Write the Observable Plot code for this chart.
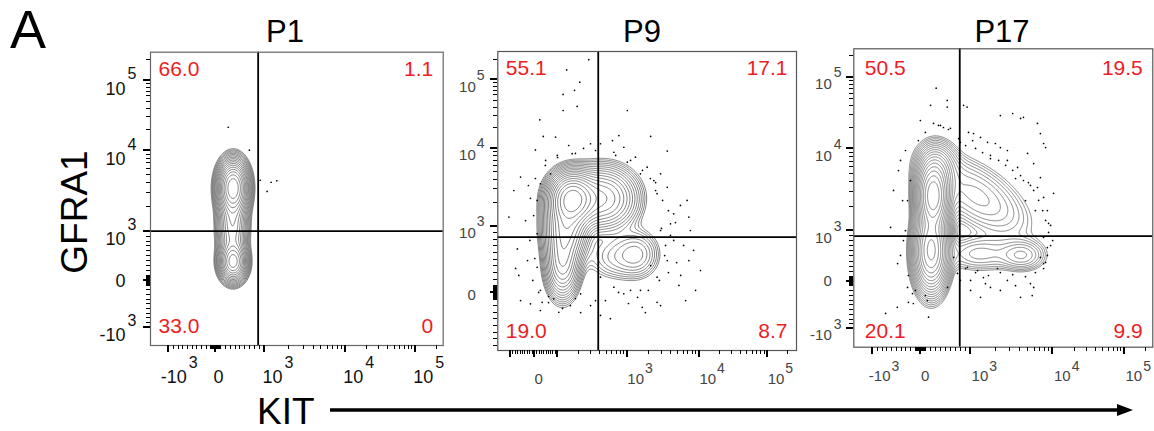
<!DOCTYPE html>
<html><head><meta charset="utf-8">
<script src="https://cdn.jsdelivr.net/npm/d3@7"></script>
<script src="https://cdn.jsdelivr.net/npm/@observablehq/plot@0.6"></script>
<style>
body{margin:0;background:#fff;}
#fig{position:relative;width:1154px;height:431px;overflow:hidden;background:#fff;font-family:"Liberation Sans",Arial,Helvetica,sans-serif;}
</style></head><body><div id="fig"></div>
<script>
// ---------------- data ----------------
const panelTitles = ["P1", "P9", "P17"];
// quadrant percentages: [upper-left, upper-right, lower-left, lower-right]
const p1Quadrants = ["66.0", "1.1", "33.0", "0"];
const p9Quadrants = ["55.1", "17.1", "19.0", "8.7"];
const p17Quadrants = ["50.5", "19.5", "20.1", "9.9"];
// quadrant gates [KIT, GFRA1] in fluorescence units
const p1Gate = [870, 1000];
const p9Gate = [385, 833];
const p17Gate = [790, 895];
// biexponential axis definition: fluorescence value -> display channel (0..1024)
const stdAxisValues = [-1000, 0, 1000, 1e4, 1e5];
const stdAxisChannels = [64, 227, 399, 681, 926];
const p9KitValues = [-100, 0, 100, 1000, 1e4, 1e5];
const p9KitChannels = [43, 126, 205, 443, 690, 924];
const p9GfraValues = [-1000, 0, 1000, 1e4, 1e5];
const p9GfraChannels = [-28, 199, 426, 693, 927];
// tick labels
const stdTickLabels = [{v: -1000, base: "-10", exp: "3"}, {v: 0, base: "0", exp: ""}, {v: 1000, base: "10", exp: "3"}, {v: 1e4, base: "10", exp: "4"}, {v: 1e5, base: "10", exp: "5"}];
const p9TickLabels = [{v: 0, base: "0", exp: ""}, {v: 1000, base: "10", exp: "3"}, {v: 1e4, base: "10", exp: "4"}, {v: 1e5, base: "10", exp: "5"}];
const stdMajorTicks = [-1000, 0, 1000, 1e4, 1e5];
const p9KitMajorTicks = [-100, 0, 100, 1000, 1e4, 1e5];
const p9GfraMajorTicks = [0, 1000, 1e4, 1e5];
// cell populations (display channels): centre, spread, correlation, relative density
const p1Populations = [
  {x: 289, y: 552, sx: 26, sy: 46, r: 0, a: 1},
  {x: 289, y: 291, sx: 24, sy: 34, r: 0, a: 0.55},
  {x: 287, y: 420, sx: 26, sy: 70, r: 0, a: 0.3}
];
const p9Populations = [
  {x: 255, y: 520, sx: 40, sy: 45, r: 0, a: 1},
  {x: 360, y: 520, sx: 60, sy: 55, r: 0, a: 0.35},
  {x: 478, y: 330, sx: 42, sy: 45, r: 0, a: 0.08},
  {x: 222, y: 300, sx: 30, sy: 62, r: 0, a: 0.32},
  {x: 235, y: 420, sx: 38, sy: 60, r: 0, a: 0.45},
  {x: 400, y: 320, sx: 55, sy: 45, r: 0, a: 0.05}
];
const p17Populations = [
  {x: 272, y: 520, sx: 28, sy: 60, r: 0, a: 1},
  {x: 265, y: 330, sx: 30, sy: 70, r: 0, a: 0.7},
  {x: 577, y: 315, sx: 45, sy: 30, r: 0, a: 0.07},
  {x: 420, y: 520, sx: 100, sy: 80, r: -0.6, a: 0.08},
  {x: 285, y: 620, sx: 36, sy: 45, r: 0, a: 0.12},
  {x: 430, y: 320, sx: 70, sy: 35, r: 0, a: 0.05}
];
// outlier events (display channels)
const p1Outliers = [[272,762],[346,682],[384,577],[422,570],[442,575],[408,538]];
const p9Outliers = [[312,996],[236,961],[281,919],[263,891],[224,877],[272,836],[224,822],[444,822],[144,790],[198,731],[156,733],[243,702],[318,708],[415,736],[524,733],[432,696],[581,683],[129,687],[78,594],[55,548],[38,457],[67,348],[72,257],[112,160],[152,165],[209,131],[386,109],[495,148],[546,165],[621,223],[655,308],[649,514],[655,457],[603,468],[581,559],[558,605],[512,628],[472,662],[398,679],[352,708],[255,674],[204,668],[181,605],[146,571],[135,514],[135,400],[135,285],[146,206],[192,177],[284,194],[352,251],[398,217],[432,194],[489,206],[546,251],[581,308],[603,377],[592,434],[546,537],[535,582],[489,605],[444,645],[558,411],[575,360],[524,291],[455,206],[335,171],[249,154],[174,185],[102,308],[95,445],[105,565],[164,651],[294,692],[393,719],[541,575],[626,497],[671,343],
  [541,548],[565,514],[585,479],[609,438],[561,418],[592,394],[637,360],[572,325],[613,301],[585,267],[554,240],[627,257],[516,206],[479,182],[448,161],[414,199],[369,171],[318,154],[266,178],[222,144],[174,164],[140,199],[120,240],[127,315],[110,377],[123,462],[112,521],[129,589],[163,634],[205,661],[266,675],[335,685],[404,668],[455,651],[496,617],[523,589],[660,411],[695,274],[678,206],[644,171],[558,154],[506,130],[352,120],[284,130],[78,171],[61,281],[146,137]];
const p17Outliers = [[263,830],[320,824],[273,768],[290,761],[307,754],[324,747],[228,778],[376,830],[393,737],[410,733],[434,720],[458,703],[485,699],[502,685],[526,675],[544,802],[571,785],[629,768],[650,699],[595,665],[616,630],[639,582],[629,548],[650,514],[663,469],[684,528],[667,425],[650,377],[663,342],[639,308],[581,572],[561,617],[526,641],[160,641],[136,538],[126,411],[184,503],[194,572],[170,366],[150,287],[184,205],[201,184],[204,150],[252,160],[109,116],[355,253],[389,274],[424,263],[444,239],[492,270],[526,229],[468,205],[571,171],[434,171],[400,229],[616,205],[650,287],[321,205],[342,308],[282,889],[320,847],[388,824],[581,789],[502,795],[639,733],[657,685],[149,137],[256,103],[611,177],[187,154],[554,579],[605,555],[588,503],[622,469],[674,418],[681,366],[657,291],[468,658],[417,682],[365,703],
  [359,716],[383,692],[407,709],[441,668],[468,647],[496,641],[520,624],[544,607],[571,589],[598,565],[616,538],[633,504],[647,469],[657,435],[667,394],[674,349],[663,315],[650,270],[622,256],[588,242],[544,249],[502,256],[461,246],[417,256],[383,270],[365,229],[400,195],[451,218],[502,195],[554,211],[605,218],[177,675],[153,606],[167,503],[177,400],[160,315],[187,246],[211,195],[245,177],[221,709],[245,737],[297,761],[331,751]];

// ---------------- helpers ----------------
function toChannel(v, vals, chans) {
  const n = vals.length;
  let i = 0;
  while (i < n - 2 && v > vals[i + 1]) i++;
  const a = vals[i], b = vals[i + 1];
  let t;
  if (a >= 100 && b > 0 && v > 0) t = (Math.log10(v) - Math.log10(a)) / (Math.log10(b) - Math.log10(a));
  else t = (v - a) / (b - a);
  return chans[i] + t * (chans[i + 1] - chans[i]);
}
function mixture(pops) {
  return (x, y) => {
    let s = 0;
    for (const p of pops) {
      const dx = (x - p.x) / p.sx, dy = (y - p.y) / p.sy, r = p.r || 0;
      s += p.a * Math.exp(-0.5 * (dx * dx - 2 * r * dx * dy + dy * dy) / (1 - r * r));
    }
    return s;
  };
}
function minorTicks(lin, decades) {
  const out = [];
  for (const s of lin) for (let k = 1; k <= 9; k++) { out.push(k * s, -k * s); }
  for (const d of decades) for (let k = 2; k <= 9; k++) out.push(k * d);
  out.push(2e5);
  return out.sort((a, b) => a - b);
}

const FONT = '"Liberation Sans",Arial,Helvetica,sans-serif';
const RED = "#ee1d23";
const fig = document.getElementById("fig");
const NS = "http://www.w3.org/2000/svg";

function makePanel(c) {
  const tx = v => toChannel(v, c.kitValues, c.kitChannels);
  const ty = v => toChannel(v, c.gfraValues, c.gfraChannels);
  const f = mixture(c.pops);
  let peak = 0;
  for (let x = 0; x <= 1024; x += 3) for (let y = 0; y <= 1024; y += 3) peak = Math.max(peak, f(x, y));
  const thresholds = d3.range(18, 0, -1).map(k => peak * Math.pow(10, -0.105 * k));
  const inX = ch => ch >= 0 && ch <= 1024;
  const L = c.lab;
  const nz = c.kitLabels.filter(d => d.exp), z = c.kitLabels.filter(d => !d.exp);
  const nzy = c.gfraLabels.filter(d => d.exp), zy = c.gfraLabels.filter(d => !d.exp);
  const q = c.qOff;
  const svg = Plot.plot({
    width: c.width, height: c.height,
    marginLeft: c.ml, marginRight: c.mr, marginTop: c.mt, marginBottom: c.mb,
    x: {domain: [0, 1024], axis: null}, y: {domain: [0, 1024], axis: null},
    style: {background: "transparent", fontFamily: FONT, overflow: "visible"},
    marks: [
      Plot.contour({x1: 0, y1: 0, x2: 1024, y2: 1024, value: f, thresholds, pixelSize: 1, fill: "none", stroke: "#666", strokeWidth: 0.8}),
      Plot.dot(c.dots, {x: d => d[0], y: d => d[1], r: 0.85, fill: "#000", stroke: null}),
      Plot.ruleX([c.gate[0]], {x: tx, stroke: "#000", strokeWidth: 1.8}),
      Plot.ruleY([c.gate[1]], {y: ty, stroke: "#000", strokeWidth: 1.8}),
      Plot.frame({stroke: c.frameColor, strokeWidth: 1.2}),
      // x tick labels
      Plot.text(nz, {x: d => tx(d.v), text: d => d.base, frameAnchor: "bottom", textAnchor: "end", lineAnchor: "middle", dx: L.xb[0], dy: L.xb[1], fontSize: c.tf, fill: c.labColor}),
      Plot.text(nz, {x: d => tx(d.v), text: d => d.exp, frameAnchor: "bottom", textAnchor: "start", lineAnchor: "middle", dx: L.xe[0], dy: L.xe[1], fontSize: c.ef, fill: c.labColor}),
      Plot.text(z, {x: d => tx(d.v), text: d => d.base, frameAnchor: "bottom", textAnchor: "middle", lineAnchor: "middle", dx: L.xz[0], dy: L.xz[1], fontSize: c.tf, fill: c.labColor}),
      // y tick labels
      Plot.text(nzy, {y: d => ty(d.v), text: d => d.base, frameAnchor: "left", textAnchor: "end", lineAnchor: "middle", dx: L.yb[0], dy: L.yb[1], fontSize: c.tf, fill: c.labColor}),
      Plot.text(nzy, {y: d => ty(d.v), text: d => d.exp, frameAnchor: "left", textAnchor: "start", lineAnchor: "middle", dx: L.ye[0], dy: L.ye[1], fontSize: c.ef, fill: c.labColor}),
      Plot.text(zy, {y: d => ty(d.v), text: d => d.base, frameAnchor: "left", textAnchor: "end", lineAnchor: "middle", dx: L.yz[0], dy: L.yz[1], fontSize: c.tf, fill: c.labColor}),
      // quadrant percentages
      Plot.text([c.quad[0]], {text: d => d, frameAnchor: "top-left", textAnchor: "start", lineAnchor: "middle", dx: q[0], dy: q[1], fill: RED, fontSize: 21}),
      Plot.text([c.quad[1]], {text: d => d, frameAnchor: "top-right", textAnchor: "end", lineAnchor: "middle", dx: q[2], dy: q[1], fill: RED, fontSize: 21}),
      Plot.text([c.quad[2]], {text: d => d, frameAnchor: "bottom-left", textAnchor: "start", lineAnchor: "middle", dx: q[0], dy: q[3], fill: RED, fontSize: 21}),
      Plot.text([c.quad[3]], {text: d => d, frameAnchor: "bottom-right", textAnchor: "end", lineAnchor: "middle", dx: q[2], dy: q[3], fill: RED, fontSize: 21})
    ]
  });
  // outward axis ticks, positioned through the plot's own x / y scales (crisp, solid black)
  const X = svg.scale("x"), Y = svg.scale("y");
  const g = document.createElementNS(NS, "g");
  g.setAttribute("shape-rendering", "crispEdges");
  g.setAttribute("stroke", "#000");
  const bottom = Math.round(Y.apply(0)), left = Math.round(X.apply(0));
  const addLine = (x1, y1, x2, y2, w) => {
    const l = document.createElementNS(NS, "line");
    l.setAttribute("x1", x1); l.setAttribute("y1", y1); l.setAttribute("x2", x2); l.setAttribute("y2", y2);
    l.setAttribute("stroke-width", w);
    g.appendChild(l);
  };
  c.kitMajor.map(tx).filter(inX).forEach(ch => { const p = Math.round(X.apply(ch)); addLine(p, bottom, p, bottom + 7, 2); });
  c.kitMinor.map(tx).filter(inX).forEach(ch => { const p = Math.round(X.apply(ch)) + 0.5; addLine(p, bottom, p, bottom + 4, 1.5); });
  c.gfraMajor.map(ty).filter(inX).forEach(ch => { const p = Math.round(Y.apply(ch)); addLine(left, p, left - 7, p, 2); });
  c.gfraMinor.map(ty).filter(inX).forEach(ch => { const p = Math.round(Y.apply(ch)) + 0.5; addLine(left, p, left - 4, p, 1.5); });
  svg.appendChild(g);
  svg.style.position = "absolute";
  svg.style.left = c.left + "px";
  svg.style.top = c.top + "px";
  svg.style.maxWidth = "none";
  fig.appendChild(svg);
}

const stdMinor = minorTicks([10, 100], [1e3, 1e4]);
const p9KitMinor = minorTicks([10], [1e2, 1e3, 1e4]);

makePanel({
  left: 95, top: 0, width: 360, height: 392, ml: 55, mr: 12.3, mt: 51.7, mb: 47,
  kitValues: stdAxisValues, kitChannels: stdAxisChannels, gfraValues: stdAxisValues, gfraChannels: stdAxisChannels,
  kitMajor: stdMajorTicks, gfraMajor: stdMajorTicks, kitMinor: stdMinor, gfraMinor: stdMinor,
  kitLabels: stdTickLabels, gfraLabels: stdTickLabels,
  pops: p1Populations, dots: p1Outliers, gate: p1Gate, quad: p1Quadrants,
  frameColor: "#666", labColor: "#111", tf: 18, ef: 16,
  lab: {xb: [18, 31.5], xe: [20, 17.5], xz: [3, 31.5], yb: [-25, 8.5], ye: [-23, -6], yz: [-25, 1]},
  qOff: [8, 17, -10, -19]
});
makePanel({
  left: 445, top: 0, width: 360, height: 392, ml: 52.3, mr: 9, mt: 51, mb: 42,
  kitValues: p9KitValues, kitChannels: p9KitChannels, gfraValues: p9GfraValues, gfraChannels: p9GfraChannels,
  kitMajor: p9KitMajorTicks, gfraMajor: p9GfraMajorTicks, kitMinor: p9KitMinor, gfraMinor: stdMinor,
  kitLabels: p9TickLabels, gfraLabels: p9TickLabels,
  pops: p9Populations, dots: p9Outliers, gate: p9Gate, quad: p9Quadrants,
  frameColor: "#555", labColor: "#444", tf: 15, ef: 14,
  lab: {xb: [17, 29], xe: [18, 18], xz: [4, 29], yb: [-22, 7.4], ye: [-21, -4.3], yz: [-22, 3]},
  qOff: [8, 16.5, -9, -19]
});
makePanel({
  left: 800, top: 0, width: 354, height: 392, ml: 53.3, mr: 1.7, mt: 48.3, mb: 45.3,
  kitValues: stdAxisValues, kitChannels: stdAxisChannels, gfraValues: stdAxisValues, gfraChannels: stdAxisChannels,
  kitMajor: stdMajorTicks, gfraMajor: stdMajorTicks, kitMinor: stdMinor, gfraMinor: stdMinor,
  kitLabels: stdTickLabels, gfraLabels: stdTickLabels,
  pops: p17Populations, dots: p17Outliers, gate: p17Gate, quad: p17Quadrants,
  frameColor: "#555", labColor: "#444", tf: 15, ef: 14,
  lab: {xb: [18, 29], xe: [19, 19], xz: [5, 29], yb: [-22, 7], ye: [-20, -4.5], yz: [-22, 0]},
  qOff: [11, 19, -10, -16]
});

// ---------------- figure annotations ----------------
const ov = document.createElementNS(NS, "svg");
ov.setAttribute("width", 1154); ov.setAttribute("height", 431);
ov.style.position = "absolute"; ov.style.left = "0"; ov.style.top = "0"; ov.style.pointerEvents = "none";
const titleX = [285, 642, 1002];
ov.innerHTML = `
  <text x="10" y="48" font-family='${FONT}' font-size="54" fill="#000">A</text>
  ${panelTitles.map((t, i) => `<text x="${titleX[i]}" y="42" text-anchor="middle" font-family='${FONT}' font-size="31" fill="#000">${t}</text>`).join("")}
  <text transform="translate(87,212) rotate(-90)" text-anchor="middle" font-family='${FONT}' font-size="37" fill="#000">GFRA1</text>
  <text x="257" y="424" font-family='${FONT}' font-size="37" fill="#000">KIT</text>
  <line x1="330" y1="410" x2="1120" y2="410" stroke="#000" stroke-width="3.6"/>
  <path d="M1117,404 L1133,410 L1117,416 Z" fill="#000"/>
`;
fig.appendChild(ov);
</script>
</body></html>
